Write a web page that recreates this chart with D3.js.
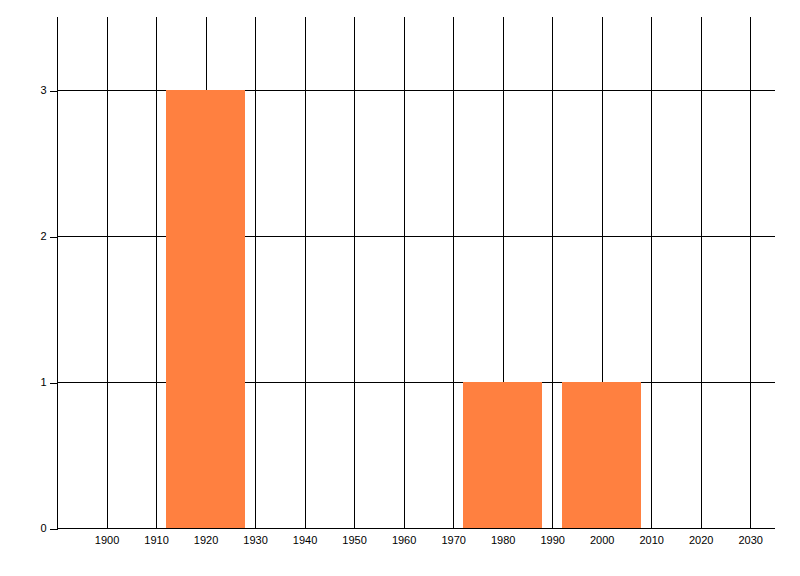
<!DOCTYPE html>
<html>
<head>
<meta charset="utf-8">
<script src="https://cdn.jsdelivr.net/npm/d3@7"></script>
<style>
  html, body { margin: 0; padding: 0; background: #fff; }
  svg { display: block; font-family: "Liberation Sans", Arial, sans-serif; }
  .grid line { stroke: #000; stroke-width: 1; shape-rendering: crispEdges; }
  .axis path, .axis line { stroke: #000; shape-rendering: crispEdges; }
  .axis text { font-size: 11px; fill: #000; }
</style>
</head>
<body>
<div id="chart"></div>
<script>
// data
const binCenters = [1920, 1980, 2000];
const counts = [3, 1, 1];
const xTicks = [1900, 1910, 1920, 1930, 1940, 1950, 1960, 1970, 1980, 1990, 2000, 2010, 2020, 2030];
const yTicks = [0, 1, 2, 3];

const width = 800;
const height = 576;
const margin = { top: 17, right: 25, bottom: 48, left: 57 };
const barYears = 16; // bar width in years

const svg = d3.select("#chart").append("svg")
  .attr("width", width)
  .attr("height", height);

const x = d3.scaleLinear()
  .domain([1890, 2035])
  .range([margin.left, width - margin.right]);
const y = d3.scaleLinear()
  .domain([0, 3.5])
  .range([height - margin.bottom, margin.top]);

const px = (v) => Math.round(v) + 0.5;

// gridlines
const grid = svg.append("g").attr("class", "grid");
grid.selectAll(".vgrid")
  .data(xTicks)
  .enter()
  .append("line")
  .attr("x1", (d) => px(x(d)))
  .attr("x2", (d) => px(x(d)))
  .attr("y1", y.range()[1])
  .attr("y2", y.range()[0]);
grid.selectAll(".hgrid")
  .data(yTicks.filter((d) => d > 0))
  .enter()
  .append("line")
  .attr("x1", x.range()[0])
  .attr("x2", x.range()[1])
  .attr("y1", (d) => px(y(d)))
  .attr("y2", (d) => px(y(d)));

// bars
svg.append("g")
  .selectAll("rect")
  .data(binCenters)
  .enter()
  .append("rect")
  .attr("x", (d) => Math.round(x(d - barYears / 2)))
  .attr("width", (d) => Math.round(x(d + barYears / 2)) - Math.round(x(d - barYears / 2)))
  .attr("y", (d, i) => Math.round(y(counts[i])))
  .attr("height", (d, i) => Math.round(y(0)) - Math.round(y(counts[i])))
  .attr("fill", "#ff8040");

// x axis, labels only
const xAxis = svg.append("g")
  .attr("class", "axis")
  .attr("transform", `translate(0,${px(y(0))})`)
  .call(d3.axisBottom(x).tickValues(xTicks).tickFormat(d3.format("d")).tickSize(0).tickPadding(8));
xAxis.select(".domain").remove();
svg.append("line")
  .attr("class", "axis")
  .attr("x1", x.range()[0])
  .attr("x2", x.range()[1])
  .attr("y1", px(y(0)))
  .attr("y2", px(y(0)))
  .attr("stroke", "#000")
  .attr("shape-rendering", "crispEdges");

// y axis
const yAxis = svg.append("g")
  .attr("class", "axis")
  .attr("transform", `translate(${px(x(1890))},0)`)
  .call(d3.axisLeft(y).tickValues(yTicks).tickFormat(d3.format("d")).tickSize(8).tickPadding(3));
yAxis.select(".domain").remove();
yAxis.selectAll(".tick line").attr("y1", 0.5).attr("y2", 0.5);
svg.append("line")
  .attr("x1", px(x(1890)))
  .attr("x2", px(x(1890)))
  .attr("y1", y.range()[1])
  .attr("y2", y.range()[0] + 1)
  .attr("stroke", "#000")
  .attr("shape-rendering", "crispEdges");
</script>
</body>
</html>
